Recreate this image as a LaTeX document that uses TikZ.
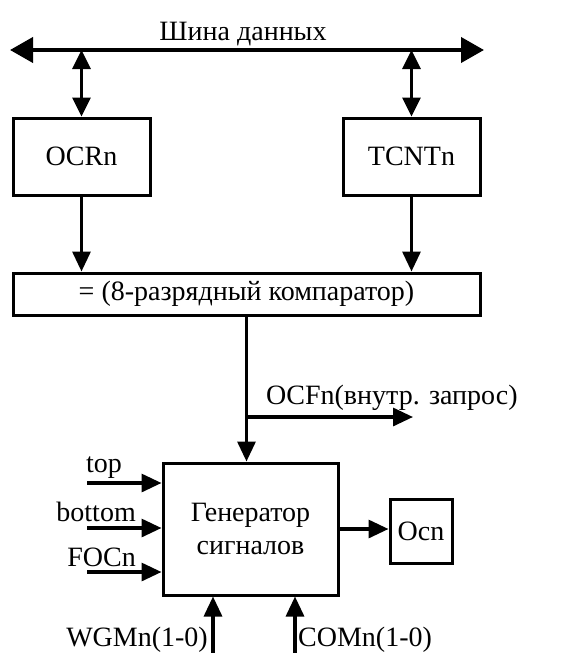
\documentclass[tikz,border=0pt]{standalone}
\usepackage{fontspec}
\setmainfont{Liberation Serif}
\usetikzlibrary{arrows.meta}
\tikzset{
  blk/.style={draw, line width=3pt, inner sep=0pt, font=\fontsize{28}{33}\selectfont},
  lbl/.style={inner sep=0pt, font=\fontsize{28}{33}\selectfont},
  ln/.style={line width=3.2pt},
  arr/.style={ln, -{Triangle[length=20pt,width=18pt]}},
  darr/.style={ln, {Triangle[length=19pt,width=18pt]}-{Triangle[length=19pt,width=18pt]}},
  busarr/.style={line width=4pt, {Triangle[length=23pt,width=25pt]}-{Triangle[length=23pt,width=25pt]}}
}
\begin{document}
\begin{tikzpicture}[x=1pt,y=-1pt]
\useasboundingbox (0,0) rectangle (578,653);
% bus
\coordinate (busL) at (10,50);
\coordinate (busR) at (484,50);
\draw[busarr] (busL) -- (busR);
\node[lbl, anchor=base] (bustxt) at (243,40) {Шина данных};
% registers
\node[blk, minimum width=137pt, minimum height=77pt] (ocr) at (81.5,156.5) {OCRn};
\node[blk, minimum width=137pt, minimum height=77pt] (tcnt) at (411.5,156.5) {TCNTn};
\draw[darr] (ocr.north |- busL) -- (ocr.north);
\draw[darr] (tcnt.north |- busL) -- (tcnt.north);
% comparator
\node[blk, minimum width=467pt, minimum height=42pt] (comp) at (246.5,294) {= (8-разрядный компаратор)};
\draw[arr] (ocr.south) -- (ocr.south |- comp.north);
\draw[arr] (tcnt.south) -- (tcnt.south |- comp.north);
% generator
\node[blk, minimum width=175pt, minimum height=132pt, align=center] (gen) at (250.5,529) {Генератор\\сигналов};
\coordinate (br) at (comp.south |- 0,417);
\coordinate (ocfend) at (413,417);
\draw[arr] (comp.south) -- (comp.south |- gen.north);
\draw[arr] (br) -- (ocfend);
\node[lbl, anchor=west] (ocftxt) at (266,398) {OCFn(внутр. запрос)};
% inputs
\coordinate (topin) at (87,483);
\coordinate (botin) at (87,528);
\coordinate (focin) at (87,572);
\draw[arr] (topin) -- (gen.west |- topin);
\draw[arr] (botin) -- (gen.west |- botin);
\draw[arr] (focin) -- (gen.west |- focin);
\node[lbl, anchor=base west] (toptxt) at (86,472) {top};
\node[lbl, anchor=base east] (bottxt) at (136,521) {bottom};
\node[lbl, anchor=base east] (foctxt) at (136,566) {FOCn};
% output
\node[blk, minimum width=62pt, minimum height=64pt] (ocn) at (421,531) {Ocn};
\draw[arr] (gen.east |- 0,529) -- (ocn.west |- 0,529);
% bottom inputs
\coordinate (wgmin) at (213,653);
\coordinate (comin) at (295,653);
\draw[arr] (wgmin) -- (wgmin |- gen.south);
\draw[arr] (comin) -- (comin |- gen.south);
\node[lbl, anchor=base east] (wgmtxt) at (208,646) {WGMn(1-0)};
\node[lbl, anchor=base west] (comtxt) at (298,646) {COMn(1-0)};
\end{tikzpicture}
\end{document}
